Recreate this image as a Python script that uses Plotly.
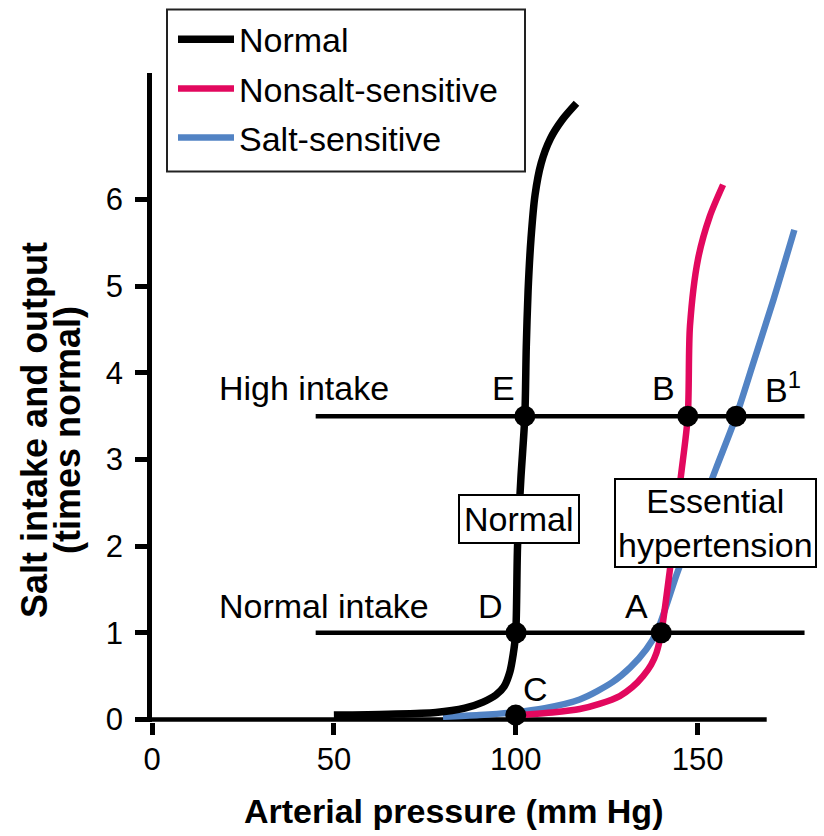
import plotly.graph_objects as go

# ---------------- data ----------------
normal_x = [50, 65, 78, 86, 91, 94.5, 96.8, 98.4, 99.3, 100.0, 100.5, 101.4, 102.5, 102.9, 103.4, 104.2, 105.3, 107.0, 109.5, 112.8, 116.7]
normal_y = [0.05, 0.06, 0.08, 0.13, 0.2, 0.28, 0.38, 0.55, 0.75, 1.0, 2.0, 2.77, 3.5, 4.3, 4.95, 5.55, 6.05, 6.42, 6.7, 6.92, 7.11]

nonsalt_x = [100, 104, 110, 117.6, 123, 128.6, 132, 135.0, 137.2, 138.7, 140.0, 142.3, 145.3, 147.3, 147.9, 150.1, 153.3, 157.0]
nonsalt_y = [0.05, 0.06, 0.08, 0.12, 0.18, 0.27, 0.37, 0.5, 0.63, 0.77, 1.0, 1.7, 2.77, 3.5, 4.54, 5.31, 5.8, 6.17]

salt_x = [80, 90, 99.2, 108, 117.6, 126.6, 131.5, 135.9, 138.7, 144.3, 149.7, 155.1, 160.6, 165.2, 170.9, 176.6]
salt_y = [0.03, 0.05, 0.08, 0.13, 0.23, 0.43, 0.6, 0.81, 1.0, 1.68, 2.3, 2.9, 3.5, 4.1, 4.85, 5.65]

intake_levels = [1.0, 3.5]
intake_names = ["Normal intake", "High intake"]
intake_x = [45, 179.4]

point_names = ["C", "D", "E", "A", "B", "B<sup>1</sup>"]
point_x = [100.0, 100.1, 102.5, 140.0, 147.3, 160.6]
point_y = [0.05, 1.0, 3.5, 1.0, 3.5, 3.5]

x_ticks = [0, 50, 100, 150]
y_ticks = [0, 1, 2, 3, 4, 5, 6]
x_axis_end = 169

BLACK = "#000000"
RED = "#E2085E"
BLUE = "#5283C4"
FONT = "Liberation Sans, Arial, sans-serif"

fig = go.Figure()

# x axis line (drawn as a trace so it can stop before the plot edge)
fig.add_trace(go.Scatter(x=[0, x_axis_end], y=[0, 0], mode="lines",
                         line=dict(color=BLACK, width=4.5), showlegend=False, hoverinfo="skip"))

# intake lines
for lvl in intake_levels:
    fig.add_trace(go.Scatter(x=intake_x, y=[lvl, lvl], mode="lines",
                             line=dict(color=BLACK, width=4.5), showlegend=False, hoverinfo="skip"))

fig.add_trace(go.Scatter(x=salt_x, y=salt_y, mode="lines", name="Salt-sensitive",
                         line=dict(color=BLUE, width=6.5, shape="spline", smoothing=0.8),
                         legendgroup="c", legendrank=3))
fig.add_trace(go.Scatter(x=nonsalt_x, y=nonsalt_y, mode="lines", name="Nonsalt-sensitive",
                         line=dict(color=RED, width=6.5, shape="spline", smoothing=0.8),
                         legendgroup="b", legendrank=2))
fig.add_trace(go.Scatter(x=normal_x, y=normal_y, mode="lines", name="Normal",
                         line=dict(color=BLACK, width=7.5, shape="spline", smoothing=0.8),
                         legendgroup="a", legendrank=1))

# equilibrium points
fig.add_trace(go.Scatter(x=point_x, y=point_y, mode="markers",
                         marker=dict(color=BLACK, size=21), showlegend=False, cliponaxis=False))

annotations = []
label_font = dict(family=FONT, size=34, color=BLACK)
annotations.append(dict(x=17.9, y=3.83, text="High intake", xanchor="left", yanchor="middle",
                        showarrow=False, font=label_font))
annotations.append(dict(x=17.9, y=1.31, text="Normal intake", xanchor="left", yanchor="middle",
                        showarrow=False, font=label_font))
pt_lbl_x = [105.3, 93.0, 96.5, 133.1, 140.5, 168.0]
pt_lbl_y = [0.35, 1.31, 3.83, 1.31, 3.83, 3.83]
pt_anchor = ["center", "center", "center", "center", "center", "left"]
for name, lx, ly, xa in zip(point_names, pt_lbl_x, pt_lbl_y, pt_anchor):
    annotations.append(dict(x=lx, y=ly, text=name, xanchor=xa, yanchor="middle",
                            showarrow=False, font=label_font))

# boxed labels
annotations.append(dict(x=100.8, y=2.31, text="Normal", showarrow=False, font=label_font,
                        bgcolor="white", bordercolor=BLACK, borderwidth=2, borderpad=4))
annotations.append(dict(x=154.9, y=2.27, text="Essential<br>hypertension", showarrow=False,
                        font=label_font, bgcolor="white", bordercolor=BLACK, borderwidth=2,
                        borderpad=2))

# axis titles
annotations.append(dict(xref="paper", yref="paper", x=0.4547, y=-0.137,
                        text="<b>Arterial pressure (mm Hg)</b>", showarrow=False,
                        xanchor="center", yanchor="middle",
                        font=dict(family=FONT, size=34, color=BLACK)))
annotations.append(dict(xref="paper", yref="paper", x=(35 - 152) / 662, y=0.45,
                        text="<b>Salt intake and output</b>", showarrow=False,
                        xanchor="center", yanchor="middle", textangle=-90,
                        font=dict(family=FONT, size=36, color=BLACK)))
annotations.append(dict(xref="paper", yref="paper", x=(68 - 152) / 662, y=0.45,
                        text="<b>(times normal)</b>", showarrow=False,
                        xanchor="center", yanchor="middle", textangle=-90,
                        font=dict(family=FONT, size=36, color=BLACK)))

# legend frame (drawn as a shape so it matches the reference box size)
shapes = [dict(type="rect", xref="paper", yref="paper",
               x0=(167 - 152) / 662, x1=(525 - 152) / 662,
               y0=(722.4 - 172) / 649, y1=(722.4 - 10) / 649,
               line=dict(color="#222222", width=2), fillcolor="rgba(0,0,0,0)", layer="above")]

fig.update_layout(
    width=824, height=836,
    margin=dict(l=152, r=10, t=73, b=114, autoexpand=False),
    paper_bgcolor="white", plot_bgcolor="white",
    font=dict(family=FONT, color=BLACK),
    showlegend=True,
    legend=dict(x=(173 - 152) / 662, y=(722.4 - 11) / 649, xanchor="left", yanchor="top",
                borderwidth=0, bgcolor="rgba(0,0,0,0)",
                font=dict(family=FONT, size=34, color=BLACK),
                tracegroupgap=2, traceorder="grouped", itemwidth=56),
    annotations=annotations,
    shapes=shapes,
    xaxis=dict(range=[0, 182], tickvals=x_ticks, ticktext=[str(v) for v in x_ticks],
               ticks="outside", ticklen=12, tickwidth=4.5, tickcolor=BLACK,
               showline=False, showgrid=False, zeroline=False,
               tickfont=dict(family=FONT, size=31, color=BLACK), ticklabelstandoff=-2),
    yaxis=dict(range=[-0.03, 7.46], tickvals=y_ticks, ticktext=[str(v) for v in y_ticks],
               ticks="outside", ticklen=12, tickwidth=4.5, tickcolor=BLACK,
               showline=True, linewidth=4.5, linecolor=BLACK,
               showgrid=False, zeroline=False,
               tickfont=dict(family=FONT, size=31, color=BLACK), ticklabelstandoff=6),
)

fig.write_html("out.html", config={"displayModeBar": False},
               post_script="document.body.style.margin='0';")
